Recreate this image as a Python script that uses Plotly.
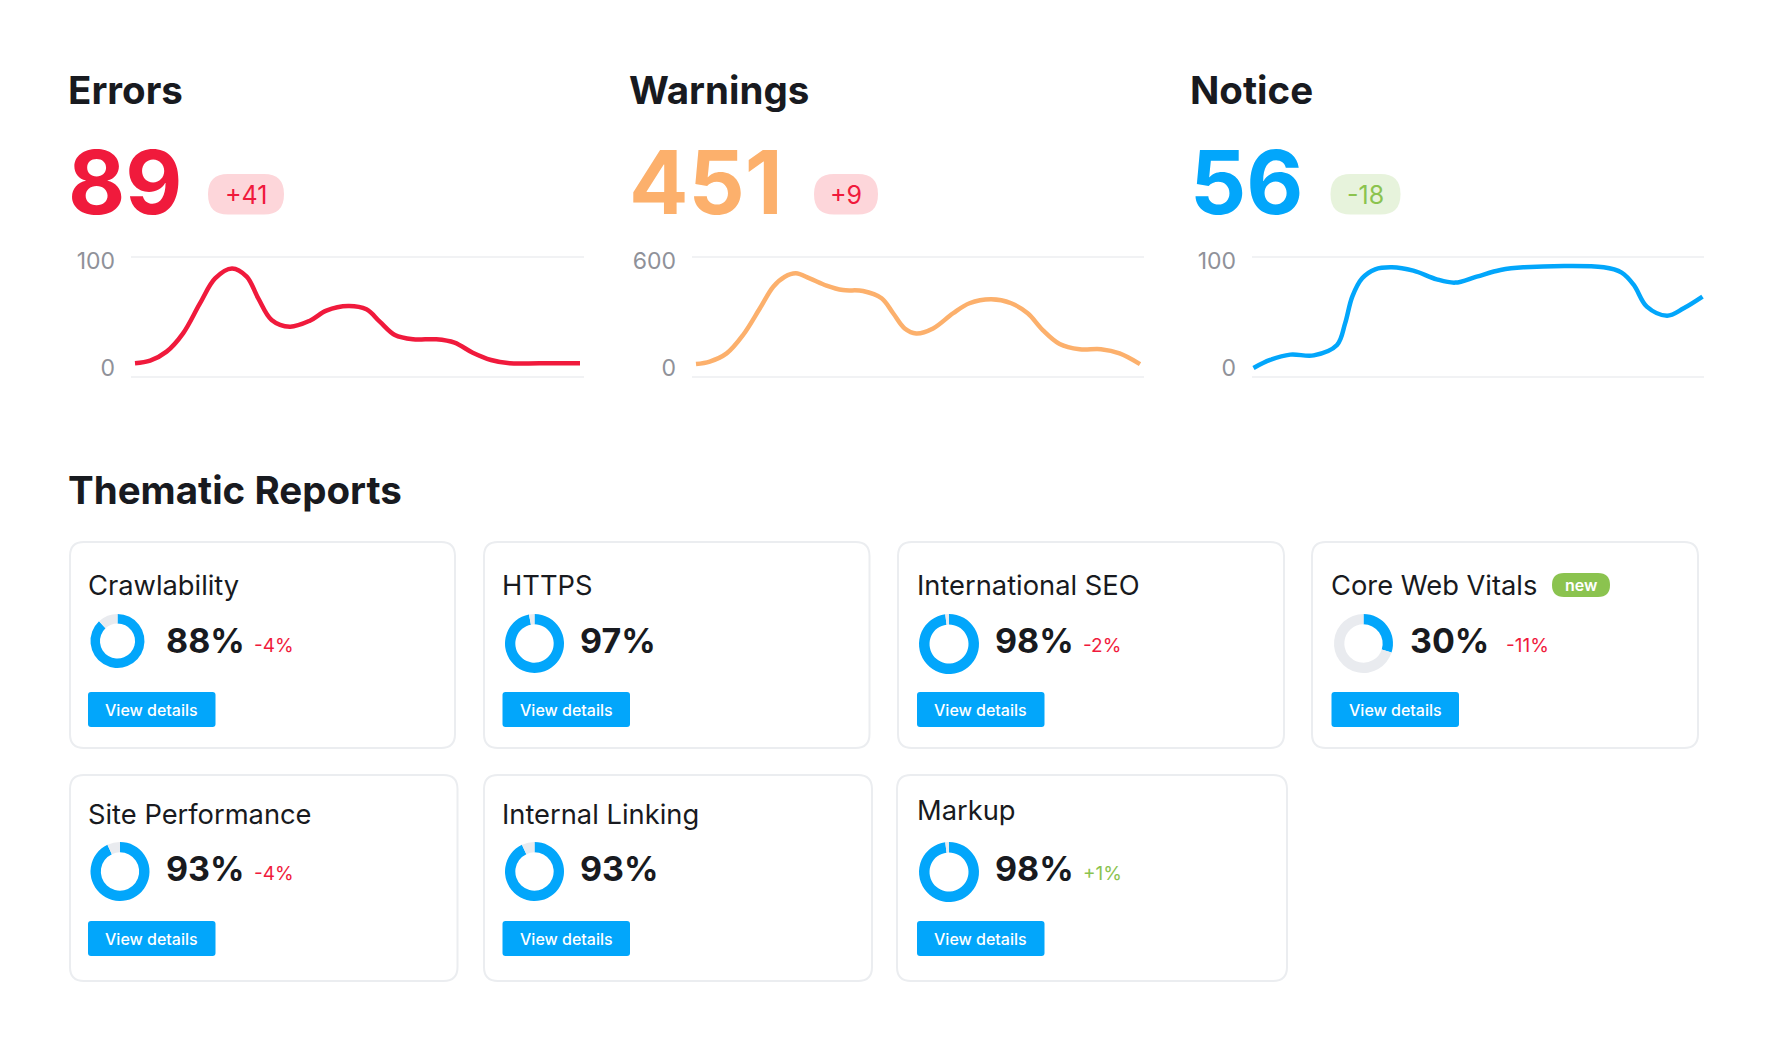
# SEO audit dashboard: three sparklines on top, thematic report cards below
import plotly.graph_objects as go

W, H = 1770, 1063
FONT = "Inter"
DARK = "#181a20"
BLUE = "#02a6fb"
RED = "#f01a3c"
ORANGE = "#fcb06c"
GREEN = "#8bc34f"
GREY = "#8f9199"
PALE = "#e9ebef"

# summary data
summary_titles = ["Errors", "Warnings", "Notice"]
summary_totals = ["89", "451", "56"]
summary_deltas = ["+41", "+9", "-18"]
summary_ticks = [[0, 100], [0, 600], [0, 100]]

errors_x = [0, 3.4, 7.1, 10.8, 14.6, 18, 21.8, 25.1, 27.7, 30.7, 34.8, 39.3, 43, 47.9, 52,
            55, 58.4, 62.5, 67.7, 71.8, 75.9, 80, 84.2, 90.9, 100]
errors_y = [4.4, 6.9, 15.3, 32.4, 60.4, 83.8, 93.1, 85.4, 65.1, 44.9, 38.6, 44.2, 53.6, 57.9, 54.8,
            43.3, 30.8, 26.8, 26.8, 23.7, 14.3, 7.5, 4.4, 4.4, 4.4]
warnings_x = [0, 3.1, 6.9, 10.6, 14.4, 17.4, 20, 22.5, 25.6, 29.4, 33.1, 37.6, 41.8, 44.4,
              47, 49.6, 53.4, 57.9, 61.6, 66.5, 71, 74.7, 78.1, 81.9, 86.4, 91.2, 95.4, 100]
warnings_y = [22, 36, 82, 185, 335, 456, 512, 531, 503, 462, 437, 432, 391, 307,
              222, 194, 222, 307, 363, 385, 363, 307, 213, 135, 105, 105, 82, 22]
notice_x = [0, 3.7, 8.2, 13.4, 18.6, 20.4, 22, 24.2, 27.1, 30.8, 35.6, 40.8, 44.9, 49.7, 55,
            60.1, 78, 82, 84.7, 87.6, 92.1, 95.8, 100]
notice_y = [0, 7.5, 12.5, 11.8, 21.5, 41.7, 66.7, 83.8, 92.2, 94.1, 91, 82.9, 79.8, 85.4, 91.6,
            94.1, 94.1, 89.1, 77.6, 57.3, 48.9, 55.8, 66.7]

# report card data
report_names = ["Crawlability", "HTTPS", "International SEO", "Core Web Vitals",
                "Site Performance", "Internal Linking", "Markup"]
report_scores = [88, 97, 98, 30, 93, 93, 98]
report_deltas = ["-4%", "", "-2%", "-11%", "-4%", "", "+1%"]
button_label = "View details"


def px(x):
    return x / W


def py(y):
    return 1 - y / H


def label(x, y, text, size, color, weight=400, anchor="left"):
    if anchor == "left":
        x -= 1.5
    return dict(x=px(x), y=py(y), xref="paper", yref="paper", text=text, showarrow=False,
                xanchor=anchor, yanchor="middle", borderpad=0,
                font=dict(family=FONT, size=size, color=color, weight=weight))


def round_rect(x0, y0, x1, y1, r, fill, line=None, width=0):
    x = [px(x0), px(x0 + r), px(x1 - r), px(x1)]
    y = [py(y0), py(y0 + r), py(y1 - r), py(y1)]
    path = (f"M {x[1]} {y[0]} L {x[2]} {y[0]} Q {x[3]} {y[0]} {x[3]} {y[1]} "
            f"L {x[3]} {y[2]} Q {x[3]} {y[3]} {x[2]} {y[3]} "
            f"L {x[1]} {y[3]} Q {x[0]} {y[3]} {x[0]} {y[2]} "
            f"L {x[0]} {y[1]} Q {x[0]} {y[0]} {x[1]} {y[0]} Z")
    return dict(type="path", xref="paper", yref="paper", path=path, fillcolor=fill,
                line=dict(color=line or fill, width=width), layer="below")


fig = go.Figure()
annotations = []
shapes = []

# top row
series = [(errors_x, errors_y, RED), (warnings_x, warnings_y, ORANGE), (notice_x, notice_y, BLUE)]
title_left = [68, 629, 1190]
total_left = [68, 629, 1190]
plot_left = [131, 692, 1252]
plot_right = [584, 1144, 1704]
pad = [4, 4, 1.5]
pills = [(208, 284), (814, 878), (1330.5, 1400.5)]
pill_fill = ["#fdd6da", "#fdd6da", "#e7f3dc"]
pill_text = [RED, RED, GREEN]
totals_color = [RED, ORANGE, BLUE]

for i, (xs, ys, color) in enumerate(series):
    n = "" if i == 0 else str(i + 1)
    fig.add_trace(go.Scatter(x=xs, y=ys, mode="lines", xaxis="x" + n, yaxis="y" + n,
                             line=dict(color=color, width=4.5, shape="spline", smoothing=1),
                             showlegend=False, hoverinfo="skip"))
    top = summary_ticks[i][1]
    unit = top / 107  # 107 px between the two tick labels
    span = (plot_right[i] - plot_left[i] - 2 * pad[i]) / 100
    fig.layout["xaxis" + n] = dict(domain=[px(plot_left[i]), px(plot_right[i])],
                                   range=[-pad[i] / span, 100 + pad[i] / span],
                                   anchor="y" + n, showgrid=False, zeroline=False, automargin=False,
                                   showticklabels=False, ticks="", showline=True, mirror=True,
                                   linecolor="#f1f2f4", linewidth=2)
    fig.layout["yaxis" + n] = dict(domain=[py(376), py(258)],
                                   range=[-8 * unit, top + 3 * unit], automargin=False,
                                   anchor="x" + n, tickvals=summary_ticks[i], showgrid=False,
                                   zeroline=False, showline=False, ticks="", ticklabelstandoff=15,
                                   tickfont=dict(family=FONT, size=23, color=GREY))
    annotations.append(label(title_left[i], 90, summary_titles[i], 38.5, DARK, 700))
    annotations.append(label(total_left[i], 182, summary_totals[i], 88, totals_color[i], 700))
    shapes.append(round_rect(pills[i][0], 174, pills[i][1], 214.5, 20, pill_fill[i]))
    annotations.append(label(sum(pills[i]) / 2, 195, summary_deltas[i], 25, pill_text[i], 400, "center"))

annotations.append(label(68, 490, "Thematic Reports", 38.5, DARK, 700))

# report cards
cards = [(70, 542, 455, 748), (484, 542, 869.5, 748), (898, 542, 1284, 748), (1312, 542, 1698, 748),
         (70, 775, 457.5, 981), (484, 775, 872, 981), (897, 775, 1287, 981)]
title_y = [585, 585, 585, 585, 814, 814, 810]
text_left = [88, 502.5, 917, 1331.5, 88, 502.5, 917]
donuts = [(90.5, 614, 54), (505, 614, 59), (919, 614, 60), (1334, 614, 59),
          (90.5, 842, 59), (505, 842, 59), (919, 842, 60)]
score_left = [166, 580, 995, 1410, 166, 580, 995]
delta_left = [254, 0, 1083, 1506, 254, 0, 1083]
button_y = [692, 692, 692, 692, 921, 921, 921]

for i, name in enumerate(report_names):
    shapes.append(round_rect(*cards[i], 14, "#ffffff", "#ebedf0", 2))
    annotations.append(label(text_left[i], title_y[i], name, 27.3, DARK))
    x0, y0, size = donuts[i]
    fig.add_trace(go.Pie(values=[report_scores[i], 100 - report_scores[i]],
                         labels=["Score", "Rest"], sort=False, direction="clockwise", rotation=0,
                         hole=0.65, textinfo="none", showlegend=False, hoverinfo="skip",
                         marker=dict(colors=[BLUE, PALE], line=dict(width=0)),
                         domain=dict(x=[px(x0), px(x0 + size)], y=[py(y0 + size), py(y0)])))
    mid = y0 + 26
    annotations.append(label(score_left[i], mid, f"{report_scores[i]}%", 34, DARK, 700))
    if report_deltas[i]:
        color = GREEN if report_deltas[i].startswith("+") else RED
        annotations.append(label(delta_left[i], mid + 5, report_deltas[i], 19, color))
    by = button_y[i]
    shapes.append(round_rect(text_left[i], by, text_left[i] + 127.5, by + 35, 3, BLUE))
    annotations.append(label(text_left[i] + 63.75, by + 18, button_label, 16, "#ffffff", 500, "center"))

# badge next to Core Web Vitals
shapes.append(round_rect(1552, 573, 1610, 597, 12, GREEN))
annotations.append(label(1581, 585, "new", 16, "#ffffff", 600, "center"))

fig.update_layout(width=W, height=H, margin=dict(l=0, r=0, t=0, b=0), autosize=False,
                  template="none", paper_bgcolor="#ffffff", plot_bgcolor="#ffffff",
                  annotations=annotations, shapes=shapes)

fig.write_html("out.html", config=dict(displayModeBar=False),
               post_script="document.body.style.margin='0';document.body.style.overflow='hidden';")
